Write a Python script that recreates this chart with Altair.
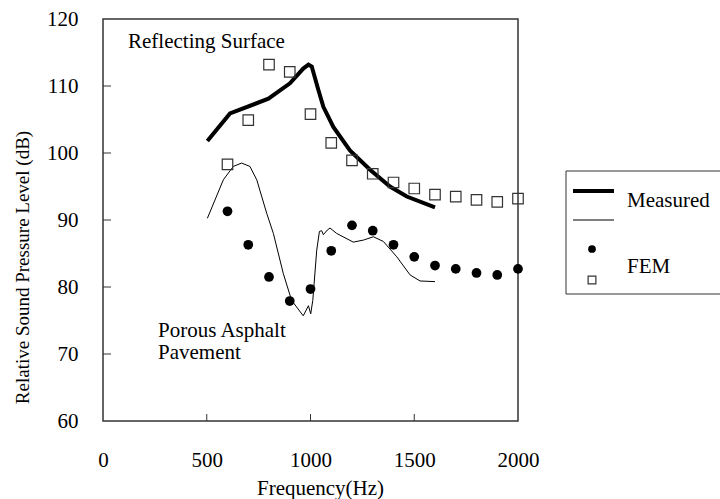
import altair as alt
import pandas as pd

# ---- data ----
fem_freq = [600, 700, 800, 900, 1000, 1100, 1200, 1300, 1400, 1500, 1600, 1700, 1800, 1900, 2000]
fem_reflect = [98.3, 104.9, 113.2, 112.1, 105.8, 101.5, 98.9, 96.9, 95.6, 94.7, 93.8, 93.5, 93.0, 92.7, 93.2]
fem_porous = [91.3, 86.3, 81.5, 77.9, 79.7, 85.4, 89.2, 88.4, 86.3, 84.5, 83.2, 82.7, 82.1, 81.8, 82.7]

meas_reflect_freq = [503, 612, 797, 901, 965, 990, 1006, 1038, 1062, 1110, 1190, 1287, 1383, 1464, 1600]
meas_reflect_spl = [101.8, 105.9, 108.1, 110.4, 112.6, 113.2, 112.9, 109.4, 106.9, 103.9, 100.4, 97.5, 95.0, 93.5, 91.9]

meas_porous_freq = [503, 580, 628, 668, 708, 741, 789, 821, 869, 909, 965, 990, 1001, 1011, 1030,
                    1043, 1054, 1062, 1081, 1094, 1126, 1206, 1255, 1303, 1351, 1416, 1480, 1528, 1600]
meas_porous_spl = [90.25, 96.0, 98.0, 98.5, 98.0, 96.0, 91.0, 88.0, 82.0, 78.0, 75.7, 77.2, 76.0, 78.0, 85.5,
                   88.3, 88.4, 87.8, 88.5, 88.8, 88.0, 86.7, 87.0, 87.5, 86.8, 84.5, 81.8, 80.9, 80.8]

x_ticks = [0, 500, 1000, 1500, 2000]
y_ticks = [60, 70, 80, 90, 100, 110, 120]
inner_x_ticks = [500, 1000, 1500]
inner_y_ticks = [70, 80, 90, 100, 110]

FONT = "Times New Roman, Liberation Serif, DejaVu Serif, serif"
W, H = 415, 402

xs = alt.Scale(domain=[0, 2000], nice=False)
ys = alt.Scale(domain=[60, 120], nice=False)

x_axis = alt.Axis(values=x_ticks, format="d", labelFont=FONT, labelFontSize=21, labelColor="black",
                  labelPadding=28, labelFlush=False, labelOverlap=False, ticks=False, tickSize=0,
                  domain=False, grid=False,
                  title="Frequency(Hz)", titleFont=FONT, titleFontSize=21, titleFontWeight="normal",
                  titleColor="black", titleX=217, titleY=67, titleBaseline="middle", titleAlign="center")
y_axis = alt.Axis(values=y_ticks, format="d", labelFont=FONT, labelFontSize=21, labelColor="black",
                  labelPadding=25, labelFlush=False, labelOverlap=False, ticks=False, tickSize=0,
                  domain=False, grid=False,
                  title="Relative Sound Pressure Level (dB)", titleFont=FONT, titleFontSize=19,
                  titleFontWeight="normal", titleColor="black", titleX=-81, titleY=248,
                  titleAngle=-90, titleBaseline="middle", titleAlign="center")

df_fem = pd.DataFrame({"f": fem_freq, "r": fem_reflect, "p": fem_porous})
df_mr = pd.DataFrame({"f": meas_reflect_freq, "v": meas_reflect_spl})
df_mp = pd.DataFrame({"f": meas_porous_freq, "v": meas_porous_spl})

base_axes = alt.Chart(pd.DataFrame({"f": [0], "v": [60]})).mark_point(opacity=0).encode(
    x=alt.X("f:Q", scale=xs, axis=x_axis),
    y=alt.Y("v:Q", scale=ys, axis=y_axis),
)

line_thick = alt.Chart(df_mr).mark_line(color="black", strokeWidth=4).encode(
    x=alt.X("f:Q", scale=xs), y=alt.Y("v:Q", scale=ys), order="f:Q")
line_thin = alt.Chart(df_mp).mark_line(color="black", strokeWidth=1).encode(
    x=alt.X("f:Q", scale=xs), y=alt.Y("v:Q", scale=ys), order="f:Q")

squares = alt.Chart(df_fem).mark_point(shape="square", filled=False, color="#333333", size=110,
                                       strokeWidth=1.2, opacity=1).encode(
    x=alt.X("f:Q", scale=xs), y=alt.Y("r:Q", scale=ys))
circles = alt.Chart(df_fem).mark_circle(color="black", size=95, opacity=1).encode(
    x=alt.X("f:Q", scale=xs), y=alt.Y("p:Q", scale=ys))

# inward tick marks
ytick_df = pd.DataFrame({"v": inner_y_ticks})
xtick_df = pd.DataFrame({"f": inner_x_ticks})
yticks = alt.Chart(ytick_df).mark_rule(color="#333333", strokeWidth=1).encode(
    y=alt.Y("v:Q", scale=ys), x=alt.value(0), x2=alt.value(8))
xticks = alt.Chart(xtick_df).mark_rule(color="#333333", strokeWidth=1).encode(
    x=alt.X("f:Q", scale=xs), y=alt.value(H), y2=alt.value(H - 7))

one = pd.DataFrame({"a": [0]})

def label(txt, x, y):
    return alt.Chart(one).mark_text(
        font=FONT, fontSize=21, align="left", baseline="middle", color="black", text=txt).encode(
        x=alt.value(x), y=alt.value(y))

# annotations
ann1 = label("Reflecting Surface", 25, 23)
ann2a = label("Porous Asphalt", 55, 312)
ann2b = label("Pavement", 55, 334)

# manual legend
legend_box = alt.Chart(one).mark_rect(fill="white", stroke="#333333", strokeWidth=1).encode(
    x=alt.value(463), x2=alt.value(640), y=alt.value(152), y2=alt.value(275))
leg_thick = alt.Chart(one).mark_rule(color="black", strokeWidth=4).encode(
    x=alt.value(470), x2=alt.value(511), y=alt.value(172))
leg_thin = alt.Chart(one).mark_rule(color="black", strokeWidth=1).encode(
    x=alt.value(470), x2=alt.value(511), y=alt.value(201))
leg_circle = alt.Chart(one).mark_circle(color="black", size=60, opacity=1).encode(
    x=alt.value(489), y=alt.value(230))
leg_square = alt.Chart(one).mark_point(shape="square", filled=False, color="#333333",
                                       size=60, strokeWidth=1.2, opacity=1).encode(
    x=alt.value(489), y=alt.value(261))
leg_t1 = label("Measured", 524, 182)
leg_t2 = label("FEM", 524, 248)

chart = alt.layer(
    base_axes, line_thin, line_thick, squares, circles, yticks, xticks, ann1, ann2a, ann2b,
    legend_box, leg_thick, leg_thin, leg_circle, leg_square, leg_t1, leg_t2
).properties(
    width=W, height=H,
    autosize=alt.AutoSizeParams(type="none"),
    padding={"left": 103, "top": 19, "right": 202, "bottom": 78},
    background="white",
).configure_view(stroke="#333333", strokeWidth=1.5, clip=False)

chart.save("out.html", embed_options={"renderer": "svg", "actions": False})
